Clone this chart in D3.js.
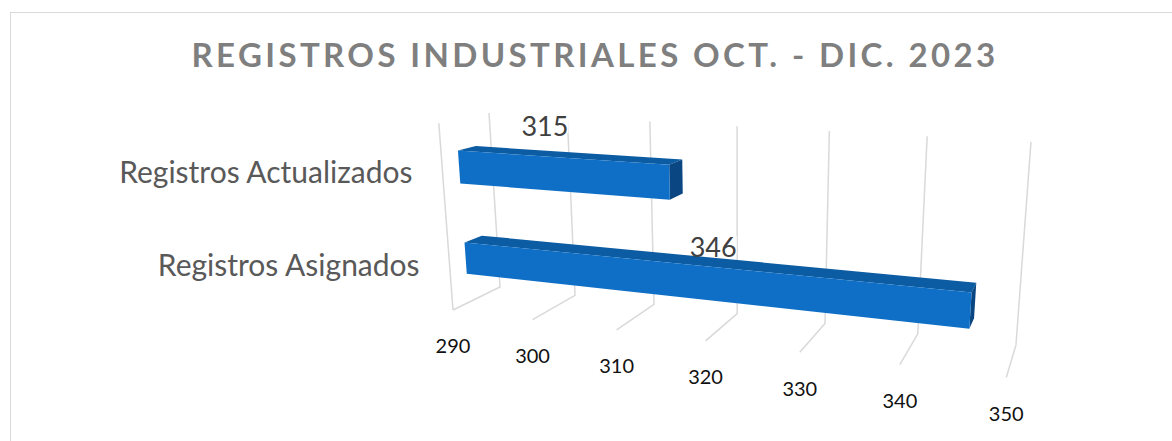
<!DOCTYPE html>
<html lang="es">
<head>
<meta charset="utf-8">
<title>Registros industriales</title>
<script src="https://cdn.jsdelivr.net/npm/d3@7"></script>
<style>
  body { margin: 0; background: #fff; }
  svg { display: block; font-family: Lato, "Open Sans", sans-serif; }
</style>
</head>
<body>
<script>
// data
var categories = ["Registros Asignados", "Registros Actualizados"];
var values = [346, 315];
var tickValues = [290, 300, 310, 320, 330, 340, 350];
var chartTitle = "REGISTROS INDUSTRIALES OCT. - DIC. 2023";

var W = 1172, H = 441;

// perspective camera for the 3d box: X = value, Y = up, Z = toward viewer (all 0..1)
var cam = {
  ox: 500, oy: 287,
  ex: [364.5, 6.5], ey: [-32.4, -179], ez: [-78.7, 1.3],
  a: -0.1491, b: -0.0438, c: -0.07
};
function proj(X, Y, Z) {
  var w = 1 + cam.a * X + cam.b * Y + cam.c * Z;
  return [(cam.ox + X * cam.ex[0] + Y * cam.ey[0] + Z * cam.ez[0]) / w,
          (cam.oy + X * cam.ex[1] + Y * cam.ey[1] + Z * cam.ez[1]) / w];
}

var x = d3.scaleLinear().domain([290, 350]).range([0, 1]);
var y = d3.scaleBand().domain(categories).range([0, 1])
          .paddingInner(0.648).paddingOuter(0.324);
var zBack = 0.32, zFront = 0.68;

// where the value label sits: fraction along the bar, lift above its top
var labelSpot = [[0.507, 0.056], [0.356, 0.128]];

var svg = d3.select("body").append("svg")
            .attr("width", W).attr("height", H);

svg.append("rect")
   .attr("x", 10.5).attr("y", 12.5)
   .attr("width", W).attr("height", H)
   .attr("fill", "#fff").attr("stroke", "#d9d9d9").attr("stroke-width", 1);

// title, spaced out to its width
var t = svg.append("text")
   .attr("x", 595).attr("y", 67)
   .attr("text-anchor", "middle")
   .attr("font-size", 33).attr("font-weight", "bold")
   .attr("fill", "#7f7f7f")
   .text(chartTitle);
var natural = t.node().getComputedTextLength();
t.attr("letter-spacing", ((807 - natural) / chartTitle.length) + "px");

var line = d3.line();
var grid = svg.append("g").attr("stroke", "#d9d9d9").attr("stroke-width", 1.5)
              .attr("fill", "none");

// back wall verticals + floor lines
grid.selectAll("path.wall").data(tickValues).enter().append("path")
    .attr("d", function(d) {
      var X = x(d);
      return line([proj(X, 1, 0), proj(X, 0, 0), proj(X, 0, 1)]);
    });
// front edge of the side wall
grid.append("path").attr("d", line([proj(0, 0, 1), proj(0, 1, 1)]));

// value axis labels
svg.append("g").selectAll("text").data(tickValues).enter().append("text")
   .attr("x", function(d) { return proj(x(d), 0, 1)[0]; })
   .attr("y", function(d) { return proj(x(d), 0, 1)[1] + 36; })
   .attr("dy", "0.36em")
   .attr("text-anchor", "middle")
   .attr("font-size", 20)
   .attr("fill", "#111")
   .text(function(d) { return d; });

// category labels
svg.append("g").selectAll("text").data(categories).enter().append("text")
   .attr("x", function(d) { return proj(0, y(d) + y.bandwidth() / 2, 1)[0] - 30; })
   .attr("y", function(d) { return proj(0, y(d) + y.bandwidth() / 2, 1)[1]; })
   .attr("dy", "0.36em")
   .attr("text-anchor", "end")
   .attr("font-size", 30)
   .attr("fill", "#595959")
   .text(function(d) { return d; });

// bars
var bars = svg.append("g").selectAll("g").data(values).enter().append("g");

function face(pts) {
  return line(pts.map(function(p) { return proj(p[0], p[1], p[2]); })) + "Z";
}

bars.append("path")
    .attr("fill", "#0c5ca3")
    .attr("d", function(d, i) {
      var X1 = x(d), Y1 = y(categories[i]) + y.bandwidth();
      return face([[0, Y1, zBack], [X1, Y1, zBack], [X1, Y1, zFront], [0, Y1, zFront]]);
    });
bars.append("path")
    .attr("fill", "#0a4782")
    .attr("d", function(d, i) {
      var X1 = x(d), Y0 = y(categories[i]), Y1 = Y0 + y.bandwidth();
      return face([[X1, Y0, zBack], [X1, Y1, zBack], [X1, Y1, zFront], [X1, Y0, zFront]]);
    });
bars.append("path")
    .attr("fill", "#0f6fc6")
    .attr("d", function(d, i) {
      var X1 = x(d), Y0 = y(categories[i]), Y1 = Y0 + y.bandwidth();
      return face([[0, Y0, zFront], [X1, Y0, zFront], [X1, Y1, zFront], [0, Y1, zFront]]);
    });

// value labels, a small white patch hides the gridline behind the digits
var labels = svg.append("g").selectAll("g").data(values).enter().append("g")
   .attr("transform", function(d, i) {
     var s = labelSpot[i];
     var p = proj(x(d) * s[0], y(categories[i]) + y.bandwidth() + s[1], zBack);
     return "translate(" + p[0] + "," + p[1] + ")";
   });
labels.append("rect").attr("fill", "#fff");
labels.append("text")
   .attr("text-anchor", "middle")
   .attr("dy", "0.36em")
   .attr("font-size", 27)
   .attr("fill", "#404040")
   .text(function(d) { return d; });
labels.each(function() {
  var g = d3.select(this), bb = g.select("text").node().getBBox();
  g.select("rect").attr("x", bb.x).attr("y", bb.y + bb.height * 0.18)
   .attr("width", bb.width).attr("height", bb.height * 0.55);
});
</script>
</body>
</html>
